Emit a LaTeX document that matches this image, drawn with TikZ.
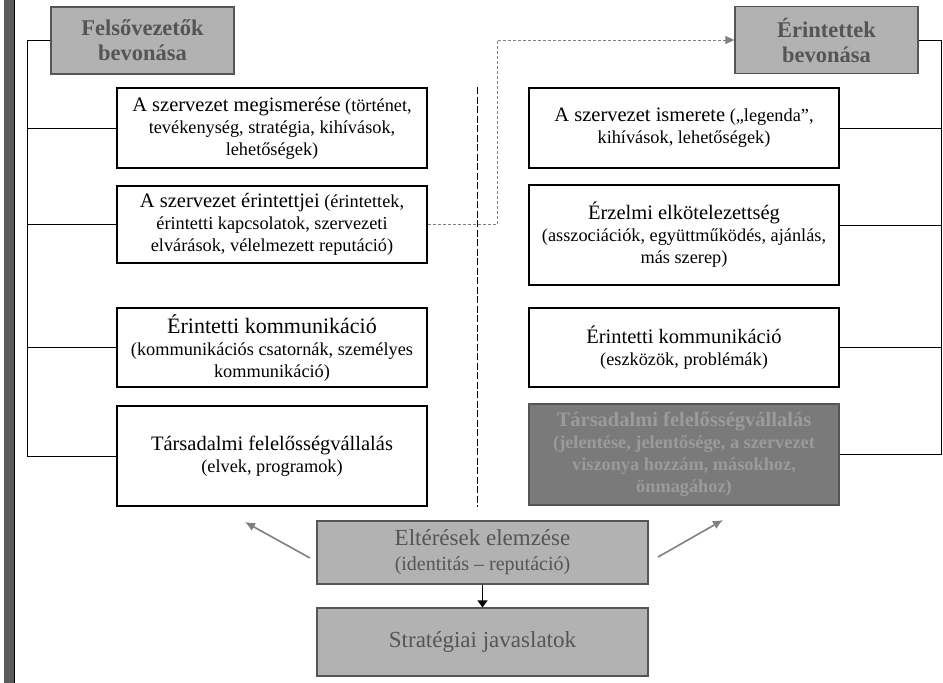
\documentclass[tikz,border=0pt]{standalone}
\usepackage{fontspec}
\setmainfont{Liberation Serif}
\usetikzlibrary{arrows.meta,calc}

\definecolor{headfill}{RGB}{178,178,178}
\definecolor{headtext}{RGB}{85,85,85}
\definecolor{darkfill}{RGB}{122,122,122}
\definecolor{darktext}{RGB}{155,155,155}
\definecolor{barcolor}{RGB}{90,90,90}

\newcommand{\mainf}{\fontsize{20.5}{25}\selectfont}
\newcommand{\subf}{\fontsize{18.3}{22}\selectfont}
\newcommand{\headf}{\fontsize{22.5}{25}\selectfont\bfseries}

\begin{document}
\begin{tikzpicture}[x=1pt,y=-1pt,
  item/.style={draw=black,line width=1.2pt,fill=white,minimum width=310,minimum height=80,align=center,inner sep=0pt,font=\subf},
  head/.style={draw=headtext,line width=1.2pt,fill=headfill,minimum width=183,minimum height=67,align=center,inner sep=0pt,text=headtext,font=\headf},
  result/.style={head,minimum width=331,font=\mainf,text=headtext},
  tree/.style={line width=1pt},
  feedback/.style={draw=gray,line width=1.6pt,-{Latex[length=10pt,width=9pt]}}]
\useasboundingbox (0,0) rectangle (943,683);
\def\xl{272}
\def\xr{684}

% left bar
\fill[barcolor] (4,0) rectangle (14,683);
\draw[line width=0.8pt] (14,0) -- (14,683);

\node[head] (FV) at (142.5,40.5) {Felsővezetők\\bevonása};
\node[head] (ER) at (826.5,40) {Érintettek\\bevonása};

\node[item] (L1) at (\xl,128) {{\mainf A szervezet megismerése} (történet,\\tevékenység, stratégia, kihívások,\\lehetőségek)};
\node[item,minimum height=77] (L2) at (\xl,224.5) {{\mainf A szervezet érintettjei} (érintettek,\\érintetti kapcsolatok, szervezeti\\elvárások, vélelmezett reputáció)};
\node[item,minimum height=79] (L3) at (\xl,347.5) {{\fontsize{22}{25}\selectfont Érintetti kommunikáció}\\(kommunikációs csatornák, személyes\\kommunikáció)};
\node[item,minimum height=100] (L4) at (\xl,456) {{\mainf Társadalmi felelősségvállalás}\\(elvek, programok)};

\node[item] (R1) at (\xr,128) {{\mainf A szervezet ismerete} („legenda”,\\kihívások, lehetőségek)};
\node[item,minimum height=100] (R2) at (\xr,235) {{\mainf Érzelmi elkötelezettség}\\(asszociációk, együttműködés, ajánlás,\\más szerep)};
\node[item,minimum height=79] (R3) at (\xr,347.5) {{\mainf Érintetti kommunikáció}\\(eszközök, problémák)};
\node[item,draw=headtext,fill=darkfill,text=darktext,minimum height=101,font=\subf\bfseries] (R4) at (\xr,454.5) {{\mainf\bfseries Társadalmi felelősségvállalás}\\(jelentése, jelentősége, a szervezet\\viszonya hozzám, másokhoz,\\önmagához)};

\node[result,minimum height=63] (EL) at (482.5,552.5) {{\fontsize{23}{26}\selectfont Eltérések elemzése}\\{\fontsize{20}{24}\selectfont (identitás -- reputáció)}};
\node[result,minimum height=68,font=\fontsize{23}{26}\selectfont] (SJ) at (482.5,642) {Stratégiai javaslatok};

% trees
\coordinate (ltrunk) at (27,40);
\coordinate (rtrunk) at (941,40);
\draw[tree] (FV.west) -- (FV.west -| ltrunk) |- (L4.west);
\foreach \n in {L1,L2,L3}
  \draw[tree] (\n.west) -- (\n.west -| ltrunk);
\draw[tree] (ER.east) -- (ER.east -| rtrunk) |- (R4.east);
\foreach \n in {R1,R3}
  \draw[tree] (\n.east) -- (\n.east -| rtrunk);
\draw[tree] ($(R2.north east)+(0,41)$) -- ($(R2.north east -| rtrunk)+(0,41)$);

% divider
\coordinate (ctop) at (477,87);
\coordinate (cbot) at (477,507);
\draw[line width=1pt,dash pattern=on 7pt off 2.5pt] (ctop) -- (cbot);

\coordinate (dbend) at (497,40);
\draw[gray,line width=0.9pt,densely dashed,-{Triangle[length=9pt,width=8pt]}] (L2.east) -| (dbend) -- (ER.west);

% from the analysis
\coordinate (lfrom) at (310,558);
\coordinate (lto) at (245,522);
\coordinate (rfrom) at (658,557);
\coordinate (rto) at (723,520);
\draw[feedback] (lfrom) -- (lto);
\draw[feedback] (rfrom) -- (rto);
\draw[line width=1.2pt,-{Triangle[length=7pt,width=10pt]}] (EL.south) -- (SJ.north);
\end{tikzpicture}
\end{document}
